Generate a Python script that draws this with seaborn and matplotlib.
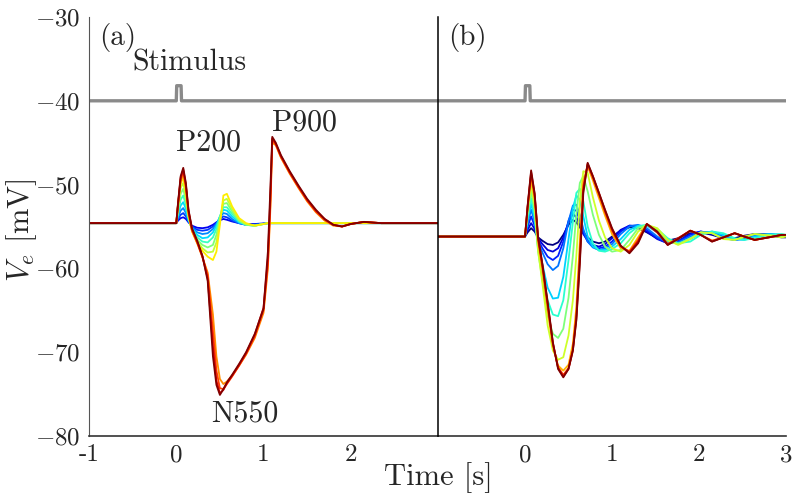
import pandas as pd
import numpy as np
import matplotlib
matplotlib.use("Agg")
import matplotlib.pyplot as plt
import seaborn as sns

# TIME GRIDS (s)
t_short = [-1.0, 0.0, 0.02, 0.05, 0.08, 0.11, 0.14, 0.18, 0.24, 0.30, 0.36, 0.42, 0.46,
           0.50, 0.54, 0.58, 0.64, 0.72, 0.80, 0.90, 1.05, 3.0]
t_long = [-1.0, 0.0, 0.02, 0.05, 0.08, 0.11, 0.14, 0.18, 0.24, 0.30, 0.36, 0.42, 0.46,
          0.50, 0.54, 0.58, 0.64, 0.72, 0.80, 0.90, 1.00, 1.05, 1.08, 1.10, 1.14, 1.20,
          1.30, 1.40, 1.50, 1.60, 1.70, 1.80, 1.90, 2.00, 2.15, 2.35, 3.0]
t_right = [-1.0, 0.0, 0.03, 0.07, 0.11, 0.15, 0.20, 0.26, 0.32, 0.38, 0.44, 0.50, 0.55,
           0.59, 0.63, 0.67, 0.72, 0.78, 0.85, 0.92, 1.00, 1.10, 1.20, 1.30, 1.40, 1.52,
           1.64, 1.76, 1.90, 2.02, 2.15, 2.28, 2.41, 2.52, 2.64, 2.80, 2.95, 3.0]

# stimulus pulse
stim_t = [-1.0, 0.0, 0.005, 0.055, 0.06, 3.0]
stim_v = [-40.0, -40.0, -38.2, -38.2, -40.0, -40.0]

# PANEL (a): small responses, blue -> yellow (on t_short)
a01 = [-54.6, -54.6, -54.3, -54.0, -53.9, -54.1, -54.5, -54.9, -55.15, -55.2, -55.1, -54.8, -54.5,
       -54.25, -54.1, -54.2, -54.4, -54.6, -54.7, -54.7, -54.6, -54.6]
a02 = [-54.6, -54.6, -54.1, -53.6, -53.4, -53.8, -54.4, -55.0, -55.4, -55.5, -55.4, -55.0, -54.6,
       -54.1, -53.8, -53.9, -54.3, -54.6, -54.8, -54.8, -54.6, -54.6]
a03 = [-54.6, -54.6, -53.9, -53.1, -52.8, -53.4, -54.3, -55.1, -55.7, -55.9, -55.8, -55.3, -54.7,
       -53.9, -53.4, -53.5, -54.1, -54.6, -54.8, -54.8, -54.6, -54.6]
a04 = [-54.6, -54.6, -53.6, -52.5, -52.1, -52.9, -54.2, -55.2, -56.0, -56.4, -56.3, -55.7, -54.9,
       -53.8, -53.0, -53.1, -53.8, -54.5, -54.8, -54.9, -54.6, -54.6]
a05 = [-54.6, -54.6, -53.3, -51.8, -51.3, -52.4, -54.0, -55.3, -56.3, -56.8, -56.9, -56.3, -55.3,
       -53.8, -52.7, -52.7, -53.5, -54.4, -54.8, -54.9, -54.6, -54.6]
a06 = [-54.6, -54.6, -53.0, -51.1, -50.5, -51.9, -53.9, -55.4, -56.6, -57.2, -57.5, -57.2, -56.0,
       -54.0, -52.3, -52.2, -53.2, -54.3, -54.8, -54.9, -54.6, -54.6]
a07 = [-54.6, -54.6, -52.7, -50.4, -49.8, -51.4, -53.8, -55.5, -56.8, -57.6, -58.1, -58.0, -56.9,
       -54.3, -51.9, -51.7, -52.9, -54.2, -54.7, -54.9, -54.6, -54.6]
a08 = [-54.6, -54.6, -52.4, -49.9, -49.2, -50.9, -53.6, -55.6, -57.0, -57.9, -58.6, -59.0, -58.0,
       -54.8, -51.3, -51.1, -52.6, -54.0, -54.6, -54.9, -54.6, -54.6]

# PANEL (a): large responses, orange -> dark red (on t_long)
a09 = [-54.6, -54.6, -52.5, -49.6, -48.7, -50.4, -53.4, -55.5, -57.0, -58.7, -60.5, -65.5, -70.5,
       -73.2, -73.8, -73.5, -72.8, -71.6, -70.3, -68.3, -65.3, -60.0, -52.5, -45.0, -45.3, -46.8,
       -48.7, -50.4, -52.0, -53.3, -54.3, -54.9, -55.0, -54.7, -54.45, -54.6, -54.6]
a10 = [-54.6, -54.6, -52.4, -49.4, -48.4, -50.2, -53.3, -55.4, -56.9, -58.6, -60.8, -67.5, -72.2,
       -74.3, -74.4, -73.8, -72.9, -71.6, -70.2, -68.1, -65.0, -59.5, -51.8, -44.7, -45.2, -46.7,
       -48.6, -50.3, -51.9, -53.2, -54.2, -54.8, -55.0, -54.7, -54.45, -54.6, -54.6]
a11 = [-54.6, -54.6, -52.3, -49.2, -48.2, -50.0, -53.1, -55.3, -56.8, -58.6, -61.2, -69.3, -73.4,
       -74.9, -74.5, -73.7, -72.8, -71.5, -70.1, -67.9, -64.7, -58.8, -51.0, -44.5, -45.1, -46.6,
       -48.5, -50.2, -51.8, -53.1, -54.1, -54.8, -55.0, -54.7, -54.45, -54.6, -54.6]
a12 = [-54.6, -54.6, -52.2, -49.0, -48.0, -49.8, -53.0, -55.2, -56.7, -58.5, -61.5, -70.5, -73.9,
       -75.1, -74.4, -73.6, -72.7, -71.4, -70.0, -67.8, -64.8, -58.0, -50.0, -44.3, -45.0, -46.5,
       -48.4, -50.1, -51.7, -53.0, -54.1, -54.8, -55.0, -54.7, -54.45, -54.6, -54.6]

# PANEL (b): blue -> dark red (on t_right)
b01 = [-56.2, -56.2, -55.7, -55.2, -55.6, -56.3, -56.7, -57.1, -57.2, -56.9, -56.0, -54.8, -54.2,
       -54.5, -55.1, -55.7, -56.3, -56.8, -57.0, -56.8, -56.2, -55.5, -55.1, -55.2, -55.7, -56.4,
       -56.7, -56.4, -55.8, -55.7, -56.0, -56.4, -56.4, -56.1, -55.9, -56.1, -56.3, -56.3]
b02 = [-56.2, -56.2, -55.4, -54.6, -55.3, -56.4, -57.1, -57.8, -58.0, -57.6, -56.3, -54.5, -53.5,
       -53.9, -54.9, -55.9, -56.7, -57.2, -57.4, -57.1, -56.4, -55.4, -54.9, -55.0, -55.6, -56.5,
       -57.0, -56.7, -55.9, -55.6, -55.9, -56.4, -56.6, -56.3, -55.9, -55.9, -56.2, -56.2]
b03 = [-56.2, -56.2, -55.0, -53.8, -54.9, -56.6, -57.6, -58.6, -59.0, -58.5, -56.8, -54.3, -53.0,
       -53.1, -54.3, -55.7, -56.8, -57.4, -57.6, -57.4, -56.8, -55.6, -54.9, -54.9, -55.4, -56.4,
       -57.0, -56.8, -56.0, -55.6, -55.8, -56.3, -56.6, -56.4, -56.0, -55.9, -56.1, -56.2]
b04 = [-56.2, -56.2, -54.6, -53.0, -54.4, -56.8, -58.1, -59.5, -60.2, -59.7, -57.6, -54.4, -52.5,
       -52.4, -53.6, -55.3, -56.8, -57.5, -57.8, -57.6, -57.1, -55.9, -55.0, -54.8, -55.2, -56.2,
       -56.9, -56.9, -56.2, -55.7, -55.7, -56.2, -56.6, -56.5, -56.1, -55.9, -56.0, -56.1]
b05 = [-56.2, -56.2, -54.2, -52.3, -54.0, -57.3, -59.5, -62.3, -63.6, -63.5, -61.0, -56.5, -52.8,
       -51.3, -51.8, -53.8, -56.2, -57.4, -57.8, -57.8, -57.4, -56.5, -55.4, -54.9, -54.9, -55.7,
       -56.7, -57.0, -56.5, -55.8, -55.6, -56.0, -56.5, -56.6, -56.2, -55.9, -56.0, -56.1]
b06 = [-56.2, -56.2, -53.8, -51.6, -53.6, -57.6, -60.4, -63.8, -65.5, -65.7, -63.8, -59.0, -54.5,
       -51.0, -50.5, -52.0, -55.0, -57.0, -57.9, -58.0, -57.7, -57.0, -55.8, -55.0, -54.8, -55.3,
       -56.4, -57.0, -56.8, -56.0, -55.6, -55.8, -56.4, -56.6, -56.4, -56.0, -55.9, -56.0]
b07 = [-56.2, -56.2, -53.4, -50.8, -53.0, -58.0, -61.4, -65.6, -67.8, -68.3, -67.2, -63.5, -58.5,
       -53.5, -49.8, -49.0, -50.8, -53.6, -56.0, -57.4, -58.0, -57.8, -56.6, -55.2, -54.8, -55.4,
       -56.7, -57.1, -56.4, -55.7, -55.8, -56.4, -56.6, -56.3, -55.9, -56.0, -56.2, -56.1]
b08 = [-56.2, -56.2, -53.0, -50.0, -52.5, -57.8, -61.8, -66.8, -69.8, -70.9, -70.6, -68.0, -63.8,
       -58.5, -52.0, -48.4, -48.6, -51.5, -54.3, -56.3, -57.6, -58.0, -57.2, -55.6, -54.8, -55.2,
       -56.6, -57.2, -56.5, -55.7, -55.8, -56.5, -56.6, -56.2, -55.9, -56.1, -56.3, -56.2]
b09 = [-56.2, -56.2, -52.8, -49.3, -51.7, -56.8, -60.3, -65.0, -69.3, -71.6, -72.2, -71.5, -69.0,
       -64.6, -56.8, -49.6, -47.8, -49.5, -51.6, -53.7, -55.9, -57.6, -57.9, -56.3, -54.7, -55.6,
       -57.1, -56.5, -55.5, -56.0, -56.7, -56.3, -55.8, -56.2, -56.6, -56.3, -56.0, -56.0]
b10 = [-56.2, -56.2, -52.7, -48.8, -51.3, -56.5, -59.8, -64.4, -69.0, -71.8, -72.7, -71.9, -69.6,
       -65.6, -58.2, -50.2, -47.6, -49.2, -51.2, -53.3, -55.5, -57.4, -58.0, -56.6, -54.7, -55.7,
       -57.1, -56.4, -55.5, -56.0, -56.7, -56.3, -55.8, -56.2, -56.6, -56.3, -56.0, -56.0]
b11 = [-56.2, -56.2, -52.6, -48.5, -51.1, -56.3, -59.6, -64.2, -68.9, -71.9, -72.9, -72.0, -69.8,
       -66.0, -59.0, -50.7, -47.5, -49.0, -51.0, -53.1, -55.3, -57.3, -58.1, -56.8, -54.7, -55.7,
       -57.2, -56.4, -55.5, -56.0, -56.8, -56.3, -55.8, -56.2, -56.6, -56.3, -56.0, -56.0]
b12 = [-56.2, -56.2, -52.5, -48.3, -51.0, -56.2, -59.5, -64.0, -68.8, -72.0, -73.0, -72.0, -69.8,
       -66.2, -59.5, -51.0, -47.4, -49.0, -51.0, -53.0, -55.2, -57.3, -58.2, -57.0, -54.7, -55.6,
       -57.2, -56.5, -55.5, -56.0, -56.8, -56.3, -55.8, -56.2, -56.6, -56.3, -56.0, -56.0]

# colour positions on the jet map
jet_a = [0.10, 0.18, 0.26, 0.34, 0.42, 0.50, 0.58, 0.66, 0.76, 0.84, 0.92, 1.0]
jet_b = [0.0, 0.08, 0.16, 0.24, 0.33, 0.40, 0.50, 0.60, 0.72, 0.84, 0.93, 1.0]

xticks_a = [-1, 0, 1, 2]
xticks_b = [0, 1, 2, 3]
yticks = [-80, -70, -60, -50, -40, -30]


def long_frame(times, traces, prefix):
    parts = []
    for k, (tt, vv) in enumerate(zip(times, traces)):
        parts.append(pd.DataFrame({"t": tt, "v": vv, "trace": f"{prefix}{k:02d}"}))
    return pd.concat(parts, ignore_index=True)


df_a = long_frame([t_short] * 8 + [t_long] * 4,
                  [a01, a02, a03, a04, a05, a06, a07, a08, a09, a10, a11, a12], "a")
df_b = long_frame([t_right] * 12,
                  [b01, b02, b03, b04, b05, b06, b07, b08, b09, b10, b11, b12], "b")

sns.set_style("white")
plt.rcParams["font.family"] = ["cmr10", "DejaVu Serif"]
plt.rcParams["mathtext.fontset"] = "cm"
plt.rcParams["axes.formatter.use_mathtext"] = True

jet = plt.get_cmap("jet")
fig = plt.figure(figsize=(7.97, 5.03), dpi=100)
ax1 = fig.add_axes([0.1117, 0.1332, 0.4379, 0.8330])
ax2 = fig.add_axes([0.5496, 0.1332, 0.4366, 0.8330], sharey=ax1)
ax2.patch.set_visible(False)

for ax, df, pos in [(ax1, df_a, jet_a), (ax2, df_b, jet_b)]:
    sns.lineplot(x=stim_t, y=stim_v, ax=ax, color="#8a8a8a", linewidth=2.4,
                 estimator=None, sort=False)
    sns.lineplot(data=df, x="t", y="v", hue="trace", palette=[jet(p) for p in pos],
                 ax=ax, legend=False, estimator=None, sort=False, linewidth=1.3)
    ax.set_xlim(-1, 3)
    ax.set_ylim(-80, -30)
    ax.set_xlabel("")
    ax.set_ylabel("")
    ax.spines["top"].set_visible(False)
    ax.tick_params(direction="in", length=9, width=0.8, color="#777777", labelsize=18, pad=6)

ax1.set_xticks(xticks_a)
ax1.set_xticklabels([str(v) for v in xticks_a])
ax1.set_yticks(yticks)
ax1.spines["right"].set_visible(False)
ax1.spines["left"].set_color("#555555")
ax1.spines["bottom"].set_color("#333333")
ax1.spines["bottom"].set_linewidth(1.2)

ax2.set_xticks(xticks_b)
ax2.set_xticklabels([str(v) for v in xticks_b])
ax2.tick_params(left=False, labelleft=False)
ax2.spines["left"].set_color("black")
ax2.spines["left"].set_linewidth(1.1)
ax2.spines["left"].set_zorder(5)
ax2.spines["right"].set_visible(False)
ax2.spines["bottom"].set_color("#333333")
ax2.spines["bottom"].set_linewidth(1.2)

# annotations
ax1.text(0.03, 0.952, "(a)", transform=ax1.transAxes, fontsize=21, ha="left", va="center")
ax2.text(0.03, 0.952, "(b)", transform=ax2.transAxes, fontsize=21, ha="left", va="center")
ax1.text(0.15, -35.5, "Stimulus", fontsize=21.5, ha="center", va="center")
ax1.text(0.37, -45.0, "P200", fontsize=21.5, ha="center", va="center")
ax1.text(1.47, -42.6, "P900", fontsize=21.5, ha="center", va="center")
ax1.text(0.79, -77.3, "N550", fontsize=21.5, ha="center", va="center")

fig.text(0.5496, 0.05, "Time [s]", fontsize=22, ha="center", va="center")
fig.text(0.027, 0.543, "$V_e$ [mV]", fontsize=22, ha="center", va="center", rotation=90)

fig.savefig("out.png", dpi=100)
